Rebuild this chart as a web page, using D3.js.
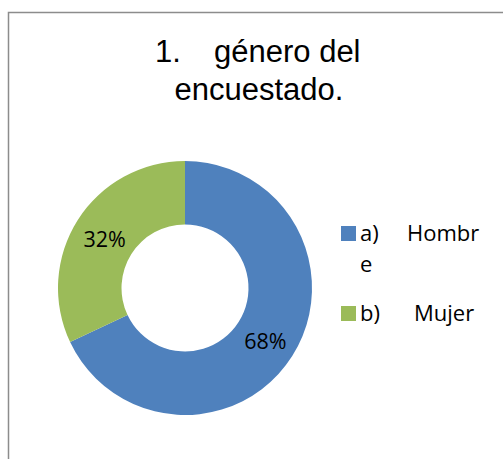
<!DOCTYPE html>
<html>
<head>
<meta charset="utf-8">
<script src="https://cdn.jsdelivr.net/npm/d3@7"></script>
<style>
  html, body { margin: 0; padding: 0; background: #fff; }
  svg { display: block; }
</style>
</head>
<body>
<div id="chart"></div>
<script>
// Survey question 1: respondent gender (doughnut)
const categories = ['Hombre', 'Mujer'];
const legendMarks = ['a)', 'b)'];
const values = [68, 32];
const colors = ['#4F81BD', '#9BBB59'];

const W = 503, H = 459;
const svg = d3.select('#chart').append('svg')
  .attr('width', W).attr('height', H);

// chart frame (only top and left edges are visible in the crop)
svg.append('path')
  .attr('d', `M8.5,${H} L8.5,12.5 L${W},12.5`)
  .attr('fill', 'none')
  .attr('stroke', '#8c8c8c')
  .attr('stroke-width', 1.5);

// title
const title = svg.append('text')
  .attr('font-family', '"Liberation Sans", Arial, sans-serif')
  .attr('font-size', 31)
  .attr('fill', '#000');
title.append('tspan').attr('x', 155).attr('y', 62).text('1.');
title.append('tspan').attr('x', 214).attr('y', 62).text('género del');
title.append('tspan').attr('x', 259).attr('y', 100)
  .attr('text-anchor', 'middle').text('encuestado.');

// doughnut
const cx = 185, cy = 288, outerR = 127, innerR = 63.5;
const pie = d3.pie().sort(null).value(d => d)
  .startAngle(0).endAngle(2 * Math.PI);
const arc = d3.arc().innerRadius(innerR).outerRadius(outerR);
const arcs = pie(values);

const g = svg.append('g').attr('transform', `translate(${cx},${cy})`);
g.selectAll('path.slice')
  .data(arcs)
  .join('path')
  .attr('class', 'slice')
  .attr('d', arc)
  .attr('fill', (d, i) => colors[i]);

const total = d3.sum(values);
g.selectAll('text.pct')
  .data(arcs)
  .join('text')
  .attr('class', 'pct')
  .attr('transform', d => `translate(${arc.centroid(d)})`)
  .attr('text-anchor', 'middle')
  .attr('dy', '0.45em')
  .attr('font-family', '"Open Sans", Lato, sans-serif')
  .attr('font-size', 21.5)
  .attr('fill', '#000')
  .text(d => Math.round(d.value / total * 100) + '%');

// legend (the long label wraps onto a second line, as in the original)
const legend = svg.append('g')
  .attr('font-family', '"Open Sans", Lato, sans-serif')
  .attr('font-size', 22)
  .attr('fill', '#000');

const legendRows = [
  { y: 226, lines: [[legendMarks[0], categories[0].slice(0, 5)], ['', categories[0].slice(5)]], textX: 407 },
  { y: 306, lines: [[legendMarks[1], categories[1]]], textX: 414 }
];

legendRows.forEach((row, i) => {
  legend.append('rect')
    .attr('x', 341).attr('y', row.y)
    .attr('width', 15).attr('height', 15)
    .attr('fill', colors[i]);
  row.lines.forEach((ln, j) => {
    const t = legend.append('text').attr('y', row.y + 15 + j * 31);
    if (ln[0]) {
      t.append('tspan').attr('x', 360).text(ln[0]);
      t.append('tspan').attr('x', row.textX).text(ln[1]);
    } else {
      t.append('tspan').attr('x', 360).text(ln[1]);
    }
  });
});
</script>
</body>
</html>
